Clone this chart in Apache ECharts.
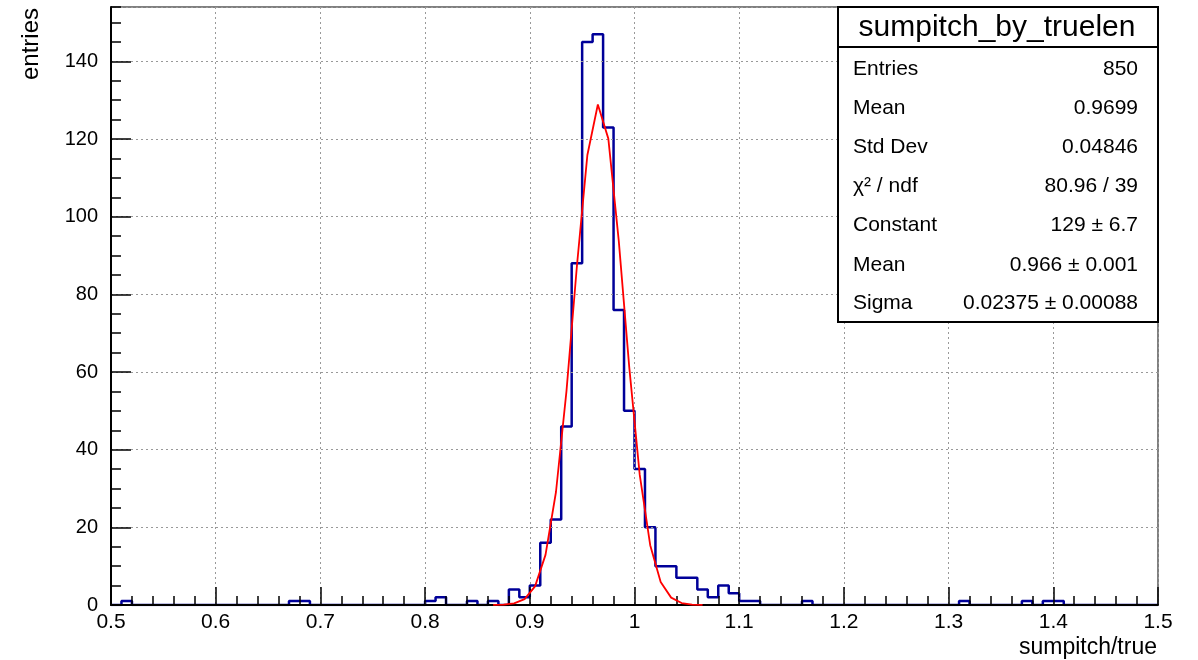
<!DOCTYPE html>
<html><head><meta charset="utf-8">
<script src="https://cdn.jsdelivr.net/npm/echarts@6/dist/echarts.min.js"></script>
<style>html,body{margin:0;padding:0;background:#fff}#c{width:1198px;height:660px}</style>
</head><body><div id="c"></div>
<script>
// ---- data ----
const binLow = 0.5;
const binWidth = 0.01;
const counts = [
  0, 1, 0, 0, 0, 0, 0, 0, 0, 0,      // 0.50-0.59
  0, 0, 0, 0, 0, 0, 0, 1, 1, 0,      // 0.60-0.69
  0, 0, 0, 0, 0, 0, 0, 0, 0, 0,      // 0.70-0.79
  1, 2, 0, 0, 1, 0, 1, 0, 4, 2,      // 0.80-0.89
  5, 16, 22, 46, 88, 145, 147, 123, 76, 50, // 0.90-0.99
  35, 20, 10, 10, 7, 7, 4, 2, 5, 3,  // 1.00-1.09
  1, 1, 0, 0, 0, 0, 1, 0, 0, 0,      // 1.10-1.19
  0, 0, 0, 0, 0, 0, 0, 0, 0, 0,      // 1.20-1.29
  0, 1, 0, 0, 0, 0, 0, 1, 0, 1,      // 1.30-1.39
  1, 0, 0, 0, 0, 0, 0, 0, 0, 0       // 1.40-1.49
];
const fitX = [0.865, 0.875, 0.885, 0.895, 0.905, 0.915, 0.925, 0.935, 0.945, 0.955, 0.965,
              0.975, 0.985, 0.995, 1.005, 1.015, 1.025, 1.035, 1.045, 1.055, 1.065];
const fitY = [0.01, 0.08, 0.4, 1.5, 4.8, 12.9, 29.1, 55.0, 87.3, 115.9, 128.9,
              120.1, 93.7, 61.2, 33.5, 15.4, 5.9, 1.9, 0.5, 0.1, 0.02];
const xTickLabels = ['0.5','0.6','0.7','0.8','0.9','1','1.1','1.2','1.3','1.4','1.5'];
const yTickLabels = ['0','20','40','60','80','100','120','140'];
const xTitle = 'sumpitch/true';
const yTitle = 'entries';
const statsTitle = 'sumpitch_by_truelen';
const statsLabels = ['Entries', 'Mean', 'Std Dev', 'χ² / ndf', 'Constant', 'Mean', 'Sigma'];
const statsValues = ['850', '0.9699', '0.04846', '80.96 / 39', '129 ± 6.7', '0.966 ± 0.001', '0.02375 ± 0.00088'];

// ---- build ----
const histData = counts.map((c, i) => [+(binLow + i * binWidth).toFixed(3), c]);
histData.push([+(binLow + counts.length * binWidth).toFixed(3), counts[counts.length - 1]]);
const fitData = fitX.map((x, i) => [x, fitY[i]]);

const FONT = 'Liberation Sans';
const G = {left: 111, top: 7, right: 1158, bottom: 605};

const rowY = [69, 108, 147, 186, 225, 265, 303];
const statsGraphics = [
  {type: 'rect', z: 100, shape: {x: 838, y: 7, width: 320, height: 315},
   style: {fill: '#fff', stroke: '#000', lineWidth: 2}},
  {type: 'line', z: 101, shape: {x1: 838, y1: 47, x2: 1158, y2: 47},
   style: {stroke: '#000', lineWidth: 2}},
  {type: 'text', z: 101, x: 997, y: 28,
   style: {text: statsTitle, font: '30px "' + FONT + '"', fill: '#000', textAlign: 'center', textVerticalAlign: 'middle'}}
];
statsLabels.forEach((lab, i) => {
  statsGraphics.push({type: 'text', z: 101, x: 853, y: rowY[i],
    style: {text: lab, font: '21px "' + FONT + '"', fill: '#000', textAlign: 'left', textVerticalAlign: 'middle'}});
  statsGraphics.push({type: 'text', z: 101, x: 1138, y: rowY[i],
    style: {text: statsValues[i], font: '21px "' + FONT + '"', fill: '#000', textAlign: 'right', textVerticalAlign: 'middle'}});
});

const chart = echarts.init(document.getElementById('c'), null, {renderer: 'canvas'});
chart.setOption({
  animation: false,
  backgroundColor: '#fff',
  grid: {left: G.left, top: G.top, width: G.right - G.left, height: G.bottom - G.top,
         show: true, borderColor: '#000', borderWidth: 1, backgroundColor: 'transparent'},
  xAxis: [{
    type: 'value', min: 0.5, max: 1.5, interval: 0.1, position: 'bottom', z: 2,
    axisLine: {show: true, onZero: false, lineStyle: {color: '#000', width: 2}},
    axisTick: {show: true, inside: true, length: 18, lineStyle: {color: '#000', width: 1.5}},
    minorTick: {show: true, splitNumber: 5, length: 9, lineStyle: {color: '#000', width: 1.5}},
    axisLabel: {show: true, margin: 7, fontFamily: FONT, fontSize: 21, color: '#000',
      showMinLabel: true, showMaxLabel: true,
      formatter: v => { const k = Math.round((v - 0.5) / 0.1); return xTickLabels[k] !== undefined ? xTickLabels[k] : ''; }},
    splitLine: {show: true, lineStyle: {color: '#999', width: 1, type: [2, 3]}},
    minorSplitLine: {show: false}
  }],
  yAxis: [{
    type: 'value', min: 0, max: 154, interval: 20, position: 'left', z: 2,
    axisLine: {show: true, onZero: false, lineStyle: {color: '#000', width: 2}},
    axisTick: {show: true, inside: true, length: 20, lineStyle: {color: '#000', width: 1.5}},
    axisLabel: {show: true, margin: 13, fontFamily: FONT, fontSize: 20, color: '#000',
      showMaxLabel: false,
      formatter: v => { const k = Math.round(v / 20); return (Math.abs(v - k * 20) < 1e-6 && yTickLabels[k] !== undefined) ? yTickLabels[k] : ''; }},
    splitLine: {show: true, lineStyle: {color: '#999', width: 1, type: [2, 3]}}
  }, {
    type: 'value', min: 0, max: 154, interval: 5, position: 'left', z: 2,
    axisLine: {show: false},
    axisTick: {show: true, inside: true, length: 10, lineStyle: {color: '#000', width: 1.5}},
    axisLabel: {show: false},
    splitLine: {show: false}
  }],
  series: [{
    type: 'line', name: 'hist', data: histData, step: 'end', xAxisIndex: 0, yAxisIndex: 0,
    symbol: 'none', z: 1, lineStyle: {color: '#000099', width: 2.5}, silent: true
  }, {
    type: 'line', name: 'fit', data: fitData, xAxisIndex: 0, yAxisIndex: 0,
    symbol: 'none', smooth: false, z: 3, lineStyle: {color: '#ff0000', width: 1.8}, silent: true
  }],
  graphic: [
    {type: 'text', x: 31, y: 8, rotation: Math.PI / 2,
     style: {text: yTitle, font: '24px "' + FONT + '"', fill: '#000', textAlign: 'right', textVerticalAlign: 'middle'}},
    {type: 'text', x: 1157, y: 648,
     style: {text: xTitle, font: '23px "' + FONT + '"', fill: '#000', textAlign: 'right', textVerticalAlign: 'middle'}}
  ].concat(statsGraphics)
});
</script>
</body></html>
